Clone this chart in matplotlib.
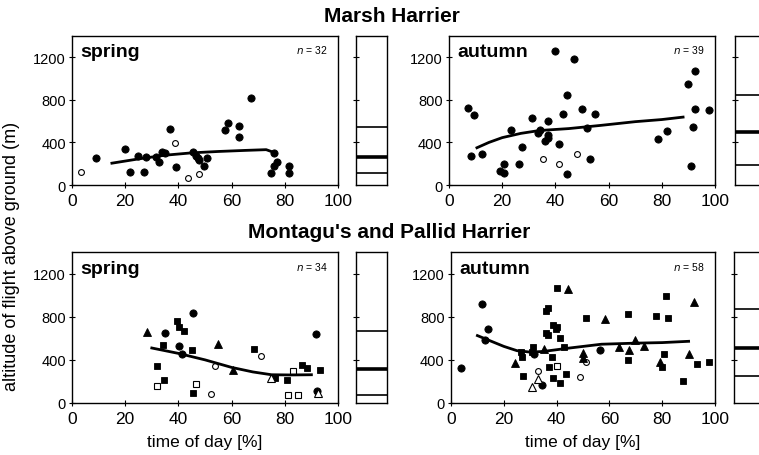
import matplotlib
matplotlib.use("Agg")
import matplotlib.pyplot as plt

plt.rcParams['font.family'] = ['Liberation Sans', 'DejaVu Sans']

# Marsh Harrier, spring  (c = filled circle, oc = open circle)
mh_spr_x = [3.3, 9.0, 20.0, 21.9, 24.9, 26.9, 27.8, 31.6, 32.8, 33.8, 35.1, 36.8, 38.7, 39.0,
            43.7, 45.6, 46.6, 47.2, 47.9, 47.9, 49.7, 50.6, 57.5, 58.8, 62.7, 62.7, 67.4,
            75.8, 74.7, 75.8, 77.0, 81.7, 81.7]
mh_spr_y = [119, 251, 338, 125, 276, 125, 266, 266, 213, 307, 301, 526, 392, 166,
            66, 307, 276, 251, 238, 103, 175, 251, 517, 580, 555, 454, 815,
            298, 113, 182, 219, 175, 113]
mh_spr_k = ['oc', 'c', 'c', 'c', 'c', 'c', 'c', 'c', 'c', 'c', 'c', 'c', 'oc', 'c',
            'oc', 'c', 'c', 'c', 'c', 'oc', 'c', 'c', 'c', 'c', 'c', 'c', 'c',
            'c', 'c', 'c', 'c', 'c', 'c']
mh_spr_line_x = [15, 25, 35, 45, 55, 65, 73, 76]
mh_spr_line_y = [205, 245, 280, 302, 315, 325, 332, 305]
mh_spr_quart = [112, 262, 546]

# Marsh Harrier, autumn
mh_aut_x = [7.3, 9.4, 8.3, 12.4, 19.2, 20.6, 20.6, 23.3, 26.3, 27.4, 31.2, 33.3, 34.2, 35.5,
            36.2, 37.2, 37.2, 37.2, 39.8, 41.2, 41.2, 43.0, 44.2, 44.2, 47.1, 48.2, 50.0,
            52.0, 53.0, 55.0, 78.7, 81.8, 90.0, 90.9, 91.6, 92.6, 92.6, 97.7]
mh_aut_y = [723, 660, 276, 289, 132, 201, 113, 521, 195, 358, 628, 490, 521, 245,
            418, 597, 471, 440, 1263, 201, 386, 669, 848, 107, 1181, 289, 716,
            540, 242, 666, 434, 512, 949, 179, 544, 1068, 710, 707]
mh_aut_k = ['c', 'c', 'c', 'c', 'c', 'c', 'c', 'c', 'c', 'c', 'c', 'c', 'c', 'oc',
            'c', 'c', 'c', 'c', 'c', 'oc', 'c', 'c', 'c', 'c', 'c', 'oc', 'c',
            'c', 'c', 'c', 'c', 'c', 'c', 'c', 'c', 'c', 'c', 'c']
mh_aut_line_x = [10.5, 15, 20, 27, 34, 45, 57, 70, 80, 88]
mh_aut_line_y = [350, 400, 445, 485, 512, 530, 560, 595, 615, 638]
mh_aut_quart = [190, 500, 843]

# Montagu's and Pallid Harrier, spring  (s = square, t = triangle, o* = open)
mp_spr_x = [28.3, 35.1, 34.3, 31.8, 32.1, 34.7, 39.4, 40.3, 42.1, 40.1, 41.2, 45.5, 45.0,
            45.6, 46.7, 52.1, 53.8, 54.8, 60.4, 68.4, 71.1, 74.7, 76.3, 80.8, 83.2, 81.3,
            84.8, 86.3, 88.2, 91.6, 92.0, 92.5, 93.2]
mp_spr_y = [657, 648, 540, 344, 161, 211, 760, 704, 664, 527, 450, 831, 490,
            96, 180, 81, 347, 546, 310, 502, 440, 229, 229, 211, 301, 74,
            74, 353, 322, 636, 112, 93, 310]
mp_spr_k = ['t', 'c', 's', 's', 'os', 's', 's', 's', 's', 'c', 'c', 'c', 's',
            's', 'os', 'oc', 'oc', 't', 't', 's', 'oc', 'ot', 's', 's', 'os', 'os',
            'os', 's', 's', 'c', 'c', 'ot', 's']
mp_spr_line_x = [30, 40, 50, 60, 68, 75, 82, 90]
mp_spr_line_y = [510, 460, 400, 330, 288, 262, 260, 262]
mp_spr_quart = [78, 316, 663]

# Montagu's and Pallid Harrier, autumn
mp_aut_x = [3.8, 11.6, 13.0, 14.1, 24.2, 26.6, 26.9, 27.1, 30.9, 30.6, 31.4, 30.6, 32.8, 33.0,
            34.3, 35.2, 35.9, 36.6, 36.1, 36.6, 37.2, 38.4, 38.5, 38.8, 39.8, 40.3, 40.0,
            40.0, 41.3, 41.3, 42.9, 43.7, 44.4, 49.9, 49.9, 49.0, 51.0, 51.0, 56.4, 58.2,
            63.5, 67.2, 67.2, 67.4, 69.8, 73.0, 77.5, 79.2, 79.8, 80.5, 81.3, 82.1, 88.0,
            90.2, 92.0, 93.1, 97.9]
mp_aut_y = [326, 915, 580, 688, 372, 471, 422, 248, 515, 477, 453, 152, 223, 301,
            167, 502, 856, 881, 651, 626, 332, 425, 229, 726, 688, 704, 1067,
            347, 601, 183, 518, 270, 1054, 465, 419, 239, 384, 788, 487, 781,
            518, 828, 403, 496, 580, 524, 806, 384, 335, 456, 989, 788, 208,
            453, 936, 357, 378]
mp_aut_k = ['c', 'c', 'c', 'c', 't', 's', 's', 's', 's', 's', 'c', 'ot', 'ot', 'oc',
            'c', 't', 's', 's', 's', 's', 's', 's', 's', 's', 's', 's', 's',
            'os', 's', 's', 's', 's', 't', 't', 't', 'oc', 'oc', 's', 'c', 't',
            't', 's', 's', 't', 't', 't', 's', 't', 's', 's', 's', 's', 's',
            't', 't', 's', 's']
mp_aut_line_x = [10, 15, 20, 25, 30, 35, 45, 57, 70, 80, 90]
mp_aut_line_y = [625, 575, 525, 485, 472, 478, 510, 545, 555, 560, 572]
mp_aut_quart = [251, 512, 874]

styles = {
    'c': dict(marker='o', ms=5.2, mfc='black', mec='black', mew=0.6),
    'oc': dict(marker='o', ms=4.2, mfc='white', mec='black', mew=0.8),
    's': dict(marker='s', ms=4.8, mfc='black', mec='black', mew=0.6),
    'os': dict(marker='s', ms=4.2, mfc='white', mec='black', mew=0.8),
    't': dict(marker='^', ms=5.6, mfc='black', mec='black', mew=0.6),
    'ot': dict(marker='^', ms=5.2, mfc='white', mec='black', mew=0.8),
}

W, H = 759, 456
fig = plt.figure(figsize=(W / 100, H / 100), dpi=100)


def px_axes(left, top, width, height):
    return fig.add_axes([left / W, 1 - (top + height) / H, width / W, height / H])


def main_panel(ax, xs, ys, ks, lx, ly, season, n):
    for kind, st in styles.items():
        px = [x for x, k in zip(xs, ks) if k == kind]
        py = [y for y, k in zip(ys, ks) if k == kind]
        if px:
            ax.plot(px, py, ls='none', zorder=3, **st)
    ax.plot(lx, ly, color='black', lw=2, zorder=4)
    ax.set_xlim(0, 100)
    ax.set_ylim(0, 1400)
    ax.set_xticks([0, 20, 40, 60, 80, 100])
    ax.set_yticks([0, 400, 800, 1200])
    ax.tick_params(axis='both', direction='inout', length=5, width=0.8)
    ax.tick_params(axis='x', labelsize=12.5, pad=3)
    ax.tick_params(axis='y', labelsize=10.5, pad=2)
    for s in ax.spines.values():
        s.set_linewidth(1)
    ax.text(0.03, 0.95, season, transform=ax.transAxes, fontsize=14,
            fontweight='bold', va='top', ha='left')
    ax.text(0.96, 0.95, f'$n$ = {n}', transform=ax.transAxes, fontsize=7.5,
            va='top', ha='right')


def side_panel(ax, quart):
    ax.set_xlim(0, 1)
    ax.set_ylim(0, 1400)
    ax.hlines([quart[0], quart[2]], 0, 1, color='black', lw=1.2)
    ax.hlines(quart[1], 0, 1, color='black', lw=2.6)
    ax.set_xticks([])
    ax.set_yticks([400, 800, 1200])
    ax.set_yticklabels([])
    ax.tick_params(axis='y', direction='inout', length=5, width=0.8)
    for s in ax.spines.values():
        s.set_linewidth(1)


ax1 = px_axes(72, 37, 266, 149)
main_panel(ax1, mh_spr_x, mh_spr_y, mh_spr_k, mh_spr_line_x, mh_spr_line_y, 'spring', 32)
side_panel(px_axes(356, 37, 31, 149), mh_spr_quart)

ax2 = px_axes(449, 37, 266, 149)
main_panel(ax2, mh_aut_x, mh_aut_y, mh_aut_k, mh_aut_line_x, mh_aut_line_y, 'autumn', 39)
side_panel(px_axes(735, 37, 31, 149), mh_aut_quart)

ax3 = px_axes(72, 253, 266, 151)
main_panel(ax3, mp_spr_x, mp_spr_y, mp_spr_k, mp_spr_line_x, mp_spr_line_y, 'spring', 34)
side_panel(px_axes(356, 253, 31, 151), mp_spr_quart)
ax3.set_xlabel('time of day [%]', fontsize=12.5, labelpad=6)

ax4 = px_axes(451, 253, 264, 151)
main_panel(ax4, mp_aut_x, mp_aut_y, mp_aut_k, mp_aut_line_x, mp_aut_line_y, 'autumn', 58)
side_panel(px_axes(734, 253, 31, 151), mp_aut_quart)
ax4.set_xlabel('time of day [%]', fontsize=12.5, labelpad=6)

fig.text(392 / W, 1 - 17 / H, 'Marsh Harrier', fontsize=15, fontweight='bold',
         ha='center', va='center')
fig.text(389 / W, 1 - 233 / H, "Montagu's and Pallid Harrier", fontsize=15,
         fontweight='bold', ha='center', va='center')
fig.text(12 / W, 1 - 256 / H, 'altitude of flight above ground (m)', fontsize=13,
         rotation=90, ha='center', va='center')

fig.savefig('out.png', dpi=100)
